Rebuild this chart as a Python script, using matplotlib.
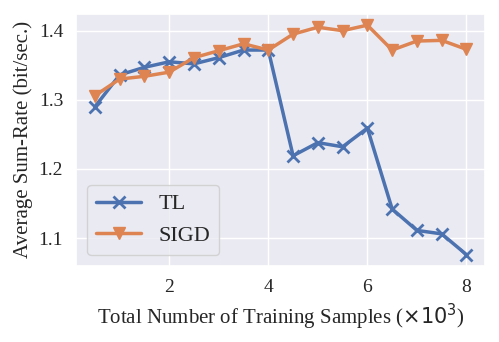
import matplotlib
matplotlib.use("Agg")
import matplotlib.pyplot as plt
import seaborn as sns

samples = [0.5, 1.0, 1.5, 2.0, 2.5, 3.0, 3.5, 4.0, 4.5, 5.0, 5.5, 6.0, 6.5, 7.0, 7.5, 8.0]
tl_rate = [1.290, 1.336, 1.347, 1.355, 1.352, 1.361, 1.372, 1.372,
           1.219, 1.238, 1.232, 1.259, 1.142, 1.111, 1.106, 1.076]
sigd_rate = [1.306, 1.330, 1.334, 1.340, 1.361, 1.371, 1.381, 1.372,
             1.395, 1.405, 1.400, 1.408, 1.372, 1.385, 1.386, 1.373]

sns.set_theme(style="darkgrid")
plt.rcParams['font.family'] = ['Liberation Serif', 'DejaVu Sans']

fig, ax = plt.subplots(figsize=(4.99, 3.42), dpi=100)
ax.plot(samples, tl_rate, marker='x', lw=2.5, ms=9, mew=2, label='TL')
ax.plot(samples, sigd_rate, marker='v', lw=2.5, ms=9, label='SIGD')

ax.set_xticks([2, 4, 6, 8])
ax.set_yticks([1.1, 1.2, 1.3, 1.4])
ax.tick_params(labelsize=14)
ax.set_xlabel(r'Total Number of Training Samples ($\times 10^3$)', fontsize=15)
ax.set_ylabel('Average Sum-Rate (bit/sec.)', fontsize=15)
ax.legend(loc='lower left', fontsize=16)

fig.subplots_adjust(left=0.153, right=0.972, top=0.96, bottom=0.222)
fig.savefig('out.png', dpi=100)
